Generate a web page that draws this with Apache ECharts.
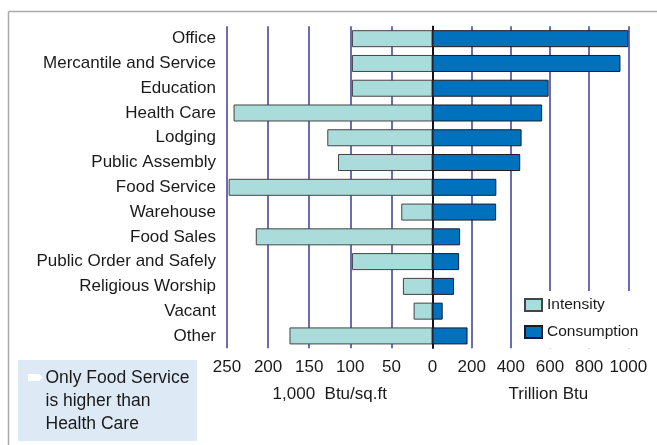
<!DOCTYPE html>
<html>
<head>
<meta charset="utf-8">
<script src="https://cdn.jsdelivr.net/npm/echarts@6/dist/echarts.min.js"></script>
<style>
html,body{margin:0;padding:0;background:#fff;}
#chart{width:657px;height:445px;}
</style>
</head>
<body>
<div id="chart"></div>
<script>
var categories = ["Office","Mercantile and Service","Education","Health Care","Lodging","Public Assembly","Food Service","Warehouse","Food Sales","Public Order and Safely","Religious Worship","Vacant","Other"];
var intensity = [98, 98, 98, 242, 128, 115, 248, 38, 215, 98, 36, 23, 174];
var consumption = [1000, 960, 593, 560, 455, 448, 326, 325, 141, 136, 110, 52, 179];
var intensityTicks = [0, 50, 100, 150, 200, 250];
var consumptionTicks = [0, 200, 400, 600, 800, 1000];
var noteLines = ["Only Food Service", "is higher than", "Health Care"];

var FONT = "'Liberation Sans', Arial, sans-serif";
var TXT = '#1a1a1a';
var GRIDC = '#3b3b98';

var chart = echarts.init(document.getElementById('chart'));
chart.setOption({
  animation: false,
  textStyle: {fontFamily: FONT},
  grid: [
    {left: 227, width: 205.5, top: 26.3, height: 322},
    {left: 432.5, width: 195.8, top: 26.3, height: 322}
  ],
  xAxis: [
    {gridIndex: 0, type: 'value', min: 0, max: intensityTicks[intensityTicks.length-1], interval: 50, inverse: true,
     axisLine: {show: false}, axisTick: {show: false},
     splitLine: {show: true, lineStyle: {color: GRIDC, width: 1.5}},
     axisLabel: {color: TXT, fontSize: 17, margin: 10.5, fontFamily: FONT},
     name: '1,000  Btu/sq.ft', nameLocation: 'middle', nameGap: 38,
     nameTextStyle: {color: TXT, fontSize: 17, fontFamily: FONT}},
    {gridIndex: 1, type: 'value', min: 0, max: consumptionTicks[consumptionTicks.length-1], interval: 200,
     axisLine: {show: false}, axisTick: {show: false},
     splitLine: {show: true, lineStyle: {color: GRIDC, width: 1.5}},
     axisLabel: {color: TXT, fontSize: 17, margin: 10.5, fontFamily: FONT,
       formatter: function(v){ return v === 0 ? '' : String(v); }},
     name: 'Trillion Btu', nameLocation: 'middle', nameGap: 38,
     nameTextStyle: {color: TXT, fontSize: 17, fontFamily: FONT, padding: [0, 0, 0, 36]}}
  ],
  yAxis: [
    {gridIndex: 0, type: 'category', data: categories, inverse: true,
     axisLine: {show: true, lineStyle: {color: '#000', width: 1.5}},
     axisTick: {show: false},
     axisLabel: {color: TXT, fontSize: 17, margin: 11, fontFamily: FONT, padding: [4, 0, 0, 0]}},
    {gridIndex: 1, type: 'category', data: categories, inverse: true, show: false}
  ],
  legend: {
    orient: 'vertical', left: 518, top: 291,
    backgroundColor: '#fff', padding: [6, 8, 8, 6],
    itemWidth: 17, itemHeight: 12, itemGap: 11, icon: 'rect',
    textStyle: {color: TXT, fontSize: 15.5, fontFamily: FONT},
    data: ['Intensity', 'Consumption']
  },
  series: [
    {name: 'Intensity', type: 'bar', xAxisIndex: 0, yAxisIndex: 0, data: intensity, barWidth: 17,
     itemStyle: {color: '#a9dcda', borderColor: '#444', borderWidth: 1}},
    {name: 'Consumption', type: 'bar', xAxisIndex: 1, yAxisIndex: 1, data: consumption, barWidth: 17,
     itemStyle: {color: '#0071bc', borderColor: '#1a1a2a', borderWidth: 1}}
  ],
  graphic: [
    {type: 'line', shape: {x1: 8.5, y1: 11.5, x2: 657, y2: 11.5}, style: {stroke: '#aaa', lineWidth: 1.5}, silent: true},
    {type: 'line', shape: {x1: 8.5, y1: 11.5, x2: 8.5, y2: 445}, style: {stroke: '#aaa', lineWidth: 1.5}, silent: true},
    {type: 'rect', shape: {x: 18, y: 360, width: 179, height: 81}, style: {fill: '#dde9f5'}, silent: true},
    {type: 'polygon', shape: {points: [[28, 374], [39, 374], [43, 377.5], [39, 381], [28, 381]]}, style: {fill: '#fff'}, silent: true},
    {type: 'text', left: 45.5, top: 367, silent: true,
     style: {text: noteLines.join('\n'), fill: TXT, fontSize: 17.5, lineHeight: 22.7, fontFamily: FONT}}
  ]
});
</script>
</body>
</html>
